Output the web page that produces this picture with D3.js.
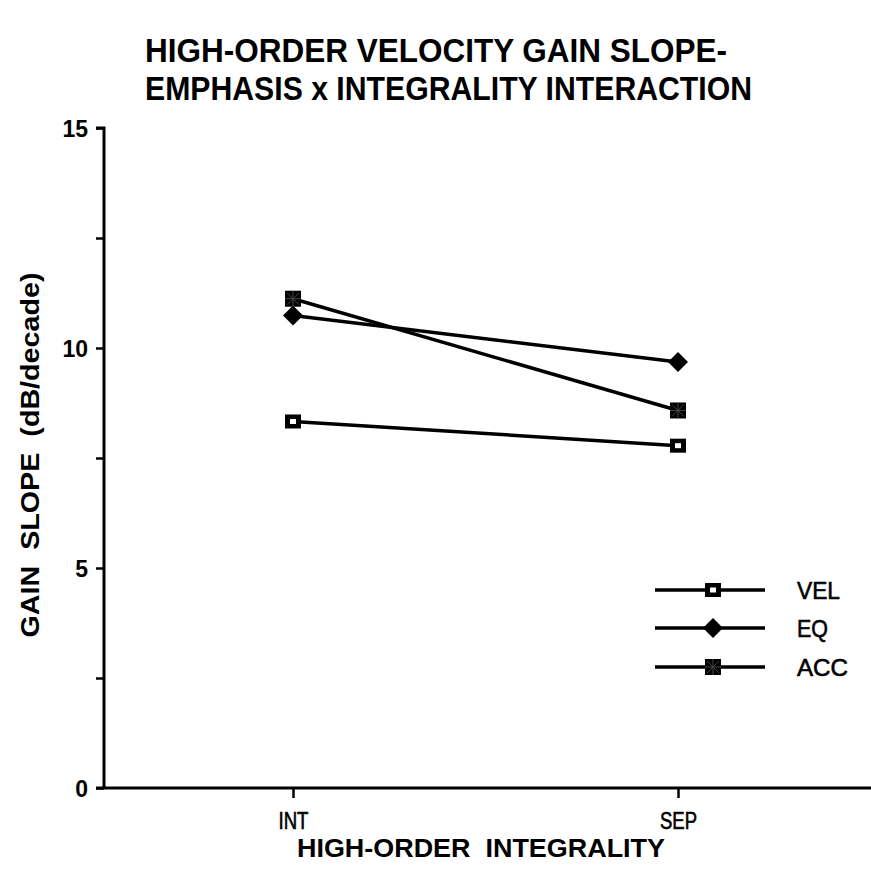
<!DOCTYPE html>
<html><head><meta charset="utf-8">
<script src="https://cdn.jsdelivr.net/npm/d3@7"></script>
<style>body{margin:0;background:#fff}svg{display:block}</style>
</head><body>
<script>
const categories = ["INT", "SEP"];
const seriesNames = ["VEL", "EQ", "ACC"];
const velValues = [8.33, 7.78];
const eqValues = [10.74, 9.68];
const accValues = [11.12, 8.58];
const yTicks = [0, 2.5, 5, 7.5, 10, 12.5, 15];
const yTickLabels = ["0", "", "5", "", "10", "", "15"];

const series = [
  {name: seriesNames[0], values: velValues, shape: "vel"},
  {name: seriesNames[1], values: eqValues, shape: "eq"},
  {name: seriesNames[2], values: accValues, shape: "acc"}
];

const W = 871, H = 870;
const svg = d3.select("body").append("svg").attr("width", W).attr("height", H);
const font = "'Liberation Sans', Arial, Helvetica, sans-serif";

const y = d3.scaleLinear().domain([0, 15]).range([788, 128]);
const x = d3.scalePoint().domain(categories).range([293, 678]);

// Title
svg.append("text").attr("x", 145).attr("y", 62).text("HIGH-ORDER VELOCITY GAIN SLOPE-")
  .attr("font-family", font).attr("font-weight", "bold").style("font-size", "33px")
  .attr("textLength", 582).attr("lengthAdjust", "spacingAndGlyphs");
svg.append("text").attr("x", 145).attr("y", 100).text("EMPHASIS x INTEGRALITY INTERACTION")
  .attr("font-family", font).attr("font-weight", "bold").style("font-size", "33px")
  .attr("textLength", 607).attr("lengthAdjust", "spacingAndGlyphs");

// Y axis
const yAxis = d3.axisLeft(y).tickValues(yTicks).tickSize(8).tickPadding(8)
  .tickFormat((d, i) => yTickLabels[i]);
const gy = svg.append("g").attr("transform", "translate(104,0)").call(yAxis);
gy.select(".domain").attr("stroke", "#000").attr("stroke-width", 3).attr("d", "M-8,128H0V789");
gy.selectAll(".tick line").attr("stroke", "#000").attr("stroke-width", 2.5);
gy.selectAll(".tick text").attr("font-family", font).attr("font-weight", "bold")
  .style("font-size", "23px").attr("fill", "#000").attr("dy", "0.36em");

// X axis
const xAxis = d3.axisBottom(x).tickSize(10).tickPadding(6);
const gx = svg.append("g").attr("transform", "translate(0,788)").call(xAxis);
gx.select(".domain").attr("stroke", "#000").attr("stroke-width", 3).attr("d", "M96,0H871");
gx.selectAll(".tick line").attr("stroke", "#000").attr("stroke-width", 2.5);
gx.selectAll(".tick text").attr("font-family", font).style("font-size", "23px").attr("fill", "#000")
  .attr("stroke", "#000").attr("stroke-width", 0.6)
  .attr("dy", "1.1em")
  .attr("textLength", d => d === "INT" ? 30 : 37).attr("lengthAdjust", "spacingAndGlyphs");

// Axis titles
svg.append("text").attr("x", 481).attr("y", 857).attr("text-anchor", "middle")
  .text("HIGH-ORDER  INTEGRALITY").attr("xml:space", "preserve")
  .attr("font-family", font).attr("font-weight", "bold").style("font-size", "25px")
  .attr("textLength", 368).attr("lengthAdjust", "spacingAndGlyphs");
svg.append("text").attr("transform", "translate(39,455) rotate(-90)").attr("text-anchor", "middle")
  .text("GAIN  SLOPE  (dB/decade)").attr("xml:space", "preserve")
  .attr("font-family", font).attr("font-weight", "bold").style("font-size", "25px")
  .attr("textLength", 365).attr("lengthAdjust", "spacingAndGlyphs");

function drawMarker(g, shape, cx, cy) {
  if (shape === "vel") {
    g.append("rect").attr("x", cx - 8).attr("y", cy - 7).attr("width", 16).attr("height", 14).attr("fill", "#000");
    g.append("rect").attr("x", cx - 3).attr("y", cy - 2.5).attr("width", 6).attr("height", 5).attr("fill", "#fff");
  } else if (shape === "eq") {
    g.append("path").attr("d", `M${cx},${cy-10}L${cx+10},${cy}L${cx},${cy+10}L${cx-10},${cy}Z`).attr("fill", "#000");
  } else {
    g.append("rect").attr("x", cx - 8).attr("y", cy - 8).attr("width", 16).attr("height", 16).attr("fill", "#000");
    g.append("path").attr("d", `M${cx-8},${cy}H${cx+8}M${cx},${cy-8}V${cy+8}M${cx-6},${cy-6}L${cx+6},${cy+6}M${cx+6},${cy-6}L${cx-6},${cy+6}`)
      .attr("stroke", "#444").attr("stroke-width", 1);
  }
}

const line = d3.line().x((d, i) => x(categories[i])).y(d => y(d));
series.forEach(s => {
  svg.append("path").attr("d", line(s.values)).attr("fill", "none").attr("stroke", "#000").attr("stroke-width", 3.5);
});
series.forEach(s => {
  const g = svg.append("g");
  s.values.forEach((v, i) => drawMarker(g, s.shape, x(categories[i]), y(v)));
});

// Legend
const legY = [590, 628, 667];
const legW = [43, 31, 51];
series.forEach((s, i) => {
  const g = svg.append("g");
  g.append("line").attr("x1", 655).attr("x2", 765).attr("y1", legY[i]).attr("y2", legY[i])
    .attr("stroke", "#000").attr("stroke-width", 3.5);
  drawMarker(g, s.shape, 713, legY[i]);
  g.append("text").attr("x", 797).attr("y", legY[i] + 9).text(s.name)
    .attr("font-family", font).style("font-size", "24px").attr("fill", "#000")
    .attr("stroke", "#000").attr("stroke-width", 0.6)
    .attr("textLength", legW[i]).attr("lengthAdjust", "spacingAndGlyphs");
});
</script>
</body></html>
